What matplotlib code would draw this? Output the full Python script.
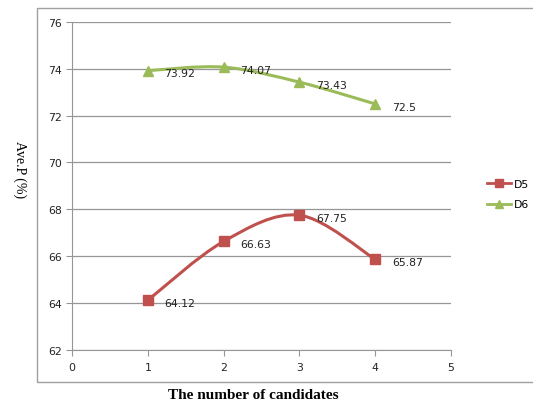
import numpy as np
import matplotlib.pyplot as plt
from matplotlib.path import Path
from matplotlib.patches import PathPatch, Rectangle
from matplotlib.lines import Line2D

# data
candidates = [1, 2, 3, 4]
d5 = [64.12, 66.63, 67.75, 65.87]
d6 = [73.92, 74.07, 73.43, 72.5]
series_names = ['D5', 'D6']

red = '#C0504D'
green = '#9BBB59'
grid_col = '#969696'


def smooth_path(xs, ys):
    # excel-like smoothed line: bezier segments through the points
    pts = np.column_stack([xs, ys]).astype(float)
    verts = [pts[0]]
    codes = [Path.MOVETO]
    n = len(pts)
    for i in range(n - 1):
        p0 = pts[i - 1] if i > 0 else pts[i]
        p1 = pts[i]
        p2 = pts[i + 1]
        p3 = pts[i + 2] if i + 2 < n else pts[i + 1]
        c1 = p1 + (p2 - p0) / 6.0
        c2 = p2 - (p3 - p1) / 6.0
        verts += [c1, c2, p2]
        codes += [Path.CURVE4] * 3
    return Path(verts, codes)


fig = plt.figure(figsize=(5.33, 4.02), dpi=100)
ax = fig.add_axes([0.135, 0.127, 0.711, 0.816])

for ys, col, mk in [(d5, red, 's'), (d6, green, '^')]:
    ax.add_patch(PathPatch(smooth_path(candidates, ys), fill=False,
                           edgecolor=col, lw=2.2, zorder=3))
    ax.plot(candidates, ys, ls='none', marker=mk, ms=7, color=col, zorder=4)
    for x, y in zip(candidates, ys):
        ax.annotate(f'{y:g}', (x, y), xytext=(12, -2), textcoords='offset points',
                    fontsize=7.8, va='center', ha='left', color='#222222')

ax.set_xlim(0, 5)
ax.set_ylim(62, 76)
ax.set_xticks(range(0, 6))
ax.set_yticks(range(62, 77, 2))
ax.yaxis.grid(True, color=grid_col, lw=0.9)
ax.set_axisbelow(True)
for s in ['top', 'right']:
    ax.spines[s].set_visible(False)
for s in ['left', 'bottom']:
    ax.spines[s].set_color(grid_col)
ax.tick_params(axis='both', colors=grid_col, labelcolor='#222222',
               labelsize=7.8, length=4, direction='out')
ax.tick_params(axis='x', pad=5)

handles = [Line2D([], [], color=red, marker='s', ms=6, lw=2),
           Line2D([], [], color=green, marker='^', ms=6, lw=2)]
fig.legend(handles, series_names, loc='center left', bbox_to_anchor=(0.905, 0.515),
           frameon=False, fontsize=7.8, handlelength=2.2, handletextpad=0.3,
           labelspacing=1.0, borderaxespad=0)

# chart border (right edge runs off the image)
fig.add_artist(Rectangle((0.069, 0.047), 0.95, 0.931, transform=fig.transFigure,
                         fill=False, edgecolor='#A0A0A0', lw=1))

fig.text(0.037, 0.577, 'Ave.P (%)', rotation=-90, ha='center', va='center',
         family='Liberation Serif', fontsize=10)
fig.text(0.475, 0.017, 'The number of candidates', ha='center', va='center',
         family='Liberation Serif', fontsize=11, fontweight='bold')

fig.savefig('out.png', dpi=100)
